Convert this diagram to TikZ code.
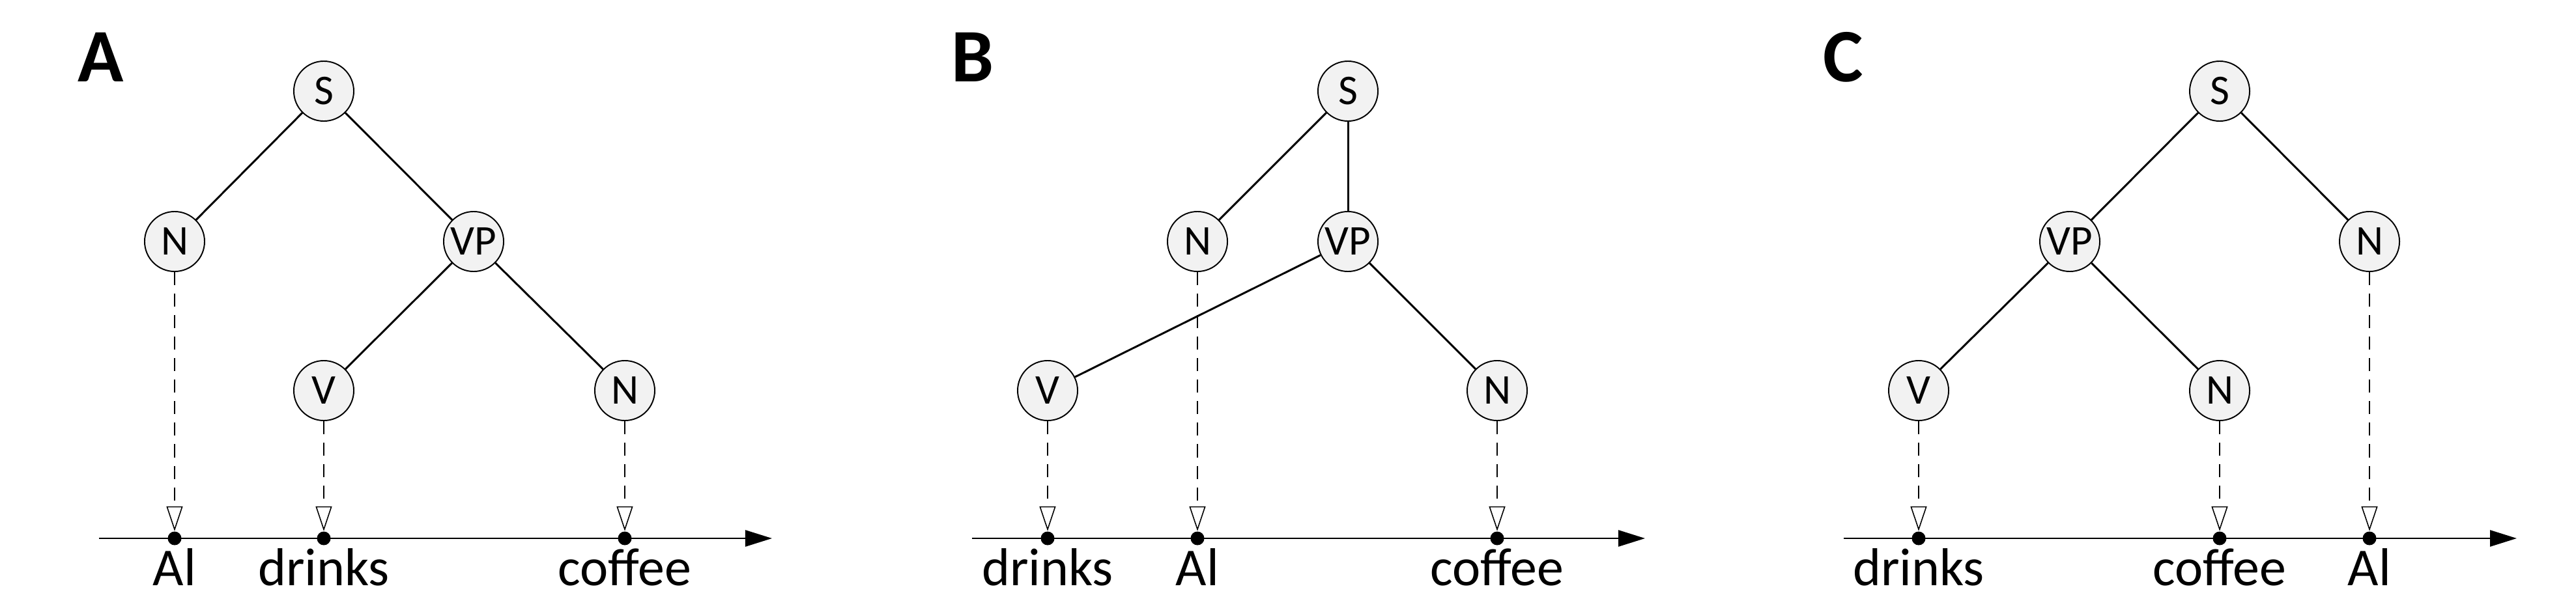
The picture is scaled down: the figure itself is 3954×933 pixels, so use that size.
\documentclass[tikz,border=0pt]{standalone}
\usepackage{fontspec}
\setmainfont{Carlito}
\usetikzlibrary{arrows.meta}
\definecolor{nodegray}{RGB}{242,242,242}
\begin{document}
\begin{tikzpicture}[x=0.01cm,y=-0.01cm,
  tn/.style={circle, draw, line width=0.55pt, fill=nodegray, minimum size=9.2mm, inner sep=0pt, font=\fontsize{18.5pt}{20pt}\selectfont},
  br/.style={line width=0.85pt},
  proj/.style={line width=0.6pt, dash pattern=on 5.7pt off 3.7pt, -{Triangle[open, length=3.8mm, width=2.5mm, line width=0.45pt]}},
  axisline/.style={line width=0.75pt, -{Triangle[length=4.1mm, width=2.5mm]}},
  dot/.style={circle, fill=black, minimum size=2.1mm, inner sep=0pt},
  word/.style={anchor=base, font=\fontsize{23.3pt}{26pt}\selectfont},
  plabel/.style={font=\fontsize{33pt}{36pt}\selectfont\bfseries}
]
\useasboundingbox (0,0) rectangle (3954,933);

% ---------- Panel A ----------
\node[plabel] (labA) at (155,88) {A};
\node[tn] (aS)  at (497,140) {S};
\node[tn] (aN)  at (268,371) {N};
\node[tn] (aVP) at (727,371) {VP};
\node[tn] (aV)  at (497,600) {V};
\node[tn] (aN2) at (959,600) {N};
\draw[br] (aS) -- (aN);
\draw[br] (aS) -- (aVP);
\draw[br] (aVP) -- (aV);
\draw[br] (aVP) -- (aN2);
\coordinate (aAx0) at (152,827);
\coordinate (aAx1) at (1185,827);
\draw[axisline] (aAx0) -- (aAx1);
\node[dot] (aD1) at (268,827) {};
\node[dot] (aD2) at (497,827) {};
\node[dot] (aD3) at (959,827) {};
\draw[proj] (aN) -- (aD1);
\draw[proj] (aV) -- (aD2);
\draw[proj] (aN2) -- (aD3);
\node[word] (aW1) at (268,899) {Al};
\node[word] (aW2) at (497,899) {drinks};
\node[word] (aW3) at (959,899) {coffee};

% ---------- Panel B ----------
\node[plabel] (labB) at (1493,88) {B};
\node[tn] (bS)  at (2069,140) {S};
\node[tn] (bN)  at (1838,371) {N};
\node[tn] (bVP) at (2069,371) {VP};
\node[tn] (bV)  at (1608,600) {V};
\node[tn] (bN2) at (2298,600) {N};
\draw[br] (bS) -- (bN);
\draw[br] (bS) -- (bVP);
\draw[br] (bVP) -- (bV);
\draw[br] (bVP) -- (bN2);
\coordinate (bAx0) at (1492,827);
\coordinate (bAx1) at (2525,827);
\draw[axisline] (bAx0) -- (bAx1);
\node[dot] (bD1) at (1608,827) {};
\node[dot] (bD2) at (1838,827) {};
\node[dot] (bD3) at (2298,827) {};
\draw[proj] (bV) -- (bD1);
\draw[proj] (bN) -- (bD2);
\draw[proj] (bN2) -- (bD3);
\node[word] (bW1) at (1608,899) {drinks};
\node[word] (bW2) at (1838,899) {Al};
\node[word] (bW3) at (2298,899) {coffee};

% ---------- Panel C ----------
\node[plabel] (labC) at (2829,88) {C};
\node[tn] (cS)  at (3407,140) {S};
\node[tn] (cVP) at (3177,371) {VP};
\node[tn] (cN)  at (3637,371) {N};
\node[tn] (cV)  at (2945,600) {V};
\node[tn] (cN2) at (3407,600) {N};
\draw[br] (cS) -- (cVP);
\draw[br] (cS) -- (cN);
\draw[br] (cVP) -- (cV);
\draw[br] (cVP) -- (cN2);
\coordinate (cAx0) at (2830,827);
\coordinate (cAx1) at (3863,827);
\draw[axisline] (cAx0) -- (cAx1);
\node[dot] (cD1) at (2945,827) {};
\node[dot] (cD2) at (3407,827) {};
\node[dot] (cD3) at (3637,827) {};
\draw[proj] (cV) -- (cD1);
\draw[proj] (cN2) -- (cD2);
\draw[proj] (cN) -- (cD3);
\node[word] (cW1) at (2945,899) {drinks};
\node[word] (cW2) at (3407,899) {coffee};
\node[word] (cW3) at (3637,899) {Al};
\end{tikzpicture}
\end{document}
